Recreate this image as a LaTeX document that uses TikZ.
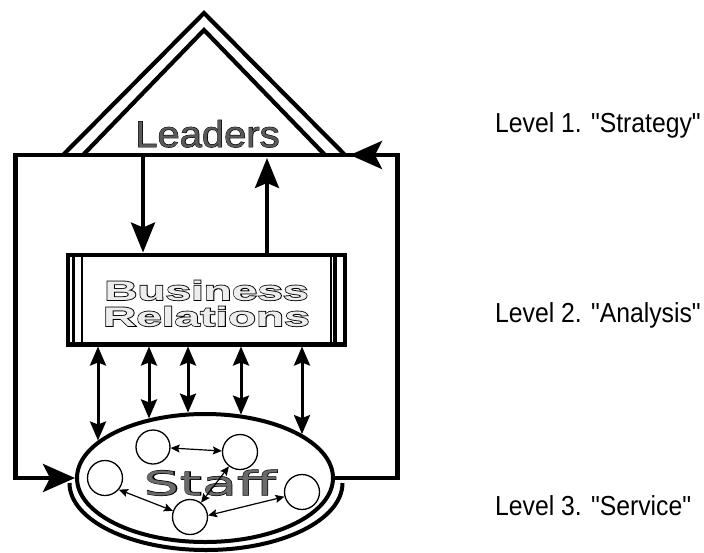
\documentclass[tikz,border=0pt]{standalone}
\usepackage{fontspec}
\setmainfont{Liberation Sans}
\usetikzlibrary{arrows.meta,shapes.geometric}
\newfontfamily\lvfont[FakeStretch=0.9]{Liberation Sans}
\newfontfamily\leadf[FakeStretch=1.08]{Liberation Sans}
\newfontfamily\leadfo[FakeStretch=1.08,FakeBold=2.5]{Liberation Sans}
\newfontfamily\busf[FakeStretch=1.7]{Liberation Sans Bold}
\newfontfamily\busfo[FakeStretch=1.7,FakeBold=6]{Liberation Sans Bold}
\newfontfamily\stf[FakeStretch=1.72]{DejaVu Sans}
\newfontfamily\stfo[FakeStretch=1.72,FakeBold=3.5]{DejaVu Sans}
\definecolor{leadgray}{HTML}{5A5A5A}
\definecolor{staffgray}{HTML}{6A6A6A}
\definecolor{busfill}{HTML}{EDEDED}
\begin{document}
\begin{tikzpicture}[x=1pt,y=-1pt,line join=miter,
  frameline/.style={line width=4.5pt},
  roofline/.style={line width=4.2pt},
  shaft/.style={line width=3.5pt},
  bigtip/.style={-{Stealth[length=32pt,width=28pt,inset=7pt]}},
  midtip/.style={-{Stealth[length=30pt,width=24pt,inset=5pt]}},
  dbl/.style={line width=3pt,{Stealth[length=19pt,width=16pt,inset=3pt]}-{Stealth[length=19pt,width=16pt,inset=3pt]}},
  small/.style={line width=1.2pt,{Stealth[length=9pt,width=8pt,inset=1.5pt]}-{Stealth[length=9pt,width=8pt,inset=1.5pt]}},
  person/.style={circle,draw,line width=1.3pt,fill=white,minimum size=35pt,inner sep=0pt},
  lvl/.style={anchor=base west,inner sep=0pt,font=\lvfont\fontsize{27.5}{27.5}\selectfont}]
\useasboundingbox (0,0) rectangle (704,552);

% frame corners
\coordinate (TL) at (15.5,155);
\coordinate (TR) at (397.5,155);
\coordinate (BL) at (15.5,478);
\coordinate (BR) at (397.5,478);
\coordinate (tipR) at (350,155);

% roof (Leaders)
\draw[roofline] (63,155) -- (204,13) -- (345,155);
\draw[roofline] (83,155) -- (204,30) -- (325,155);

% Business Relations box
\node[draw,line width=4.5pt,minimum width=277pt,minimum height=89.5pt,inner sep=0pt] (bus) at (206.5,299.5) {};
\draw[line width=2.7pt] (73.7,255) -- (73.7,344);
\draw[line width=2pt] (82,255) -- (82,344);
\draw[line width=2pt] (331,255) -- (331,344);
\draw[line width=3.3pt] (335,255) -- (335,344);

% staff ellipses
\draw[line width=4pt] (69.5,483) arc[start angle=180,end angle=0,x radius=136.5,y radius=67];
\node[ellipse,draw,line width=4pt,fill=white,minimum width=256pt,minimum height=128pt,inner sep=0pt] (staffell) at (205,478) {};

% outer frame loop
\draw[frameline,bigtip] (staffell.east) -- (BR) -- (TR) -- (TL) -- (BL) -- (staffell.west);
\draw[frameline,bigtip] (TR) -- (tipR);

% Leaders <-> Business
\coordinate (dA) at (143,157);
\coordinate (uA) at (267,158);
\draw[shaft,midtip] (dA) -- (dA |- bus.north);
\draw[shaft,midtip] (uA |- bus.north) -- (uA);

% Business <-> Staff
\coordinate (e1) at (98,440.5);
\coordinate (e2) at (149,418.4);
\coordinate (e3) at (188,412.6);
\coordinate (e4) at (241,414.6);
\coordinate (e5) at (302,434.1);
\foreach \e in {e1,e2,e3,e4,e5}{
  \draw[dbl] (\e |- bus.south) -- (\e);
}

% staff members
\node[person,minimum size=34pt] (c1) at (153,447) {};
\node[person] (c2) at (240,452) {};
\node[person] (c3) at (105,478) {};
\node[person] (c4) at (302,492) {};
\node[person] (c5) at (190,517) {};

% Texts
\node[anchor=base,inner sep=0pt,text=black,font=\leadfo\fontsize{37}{37}\selectfont] (leaders) at (207.5,147) {Leaders};
\node[anchor=base,inner sep=0pt,text=leadgray,font=\leadf\fontsize{37}{37}\selectfont] at (207.5,147) {Leaders};

\node[anchor=base,inner sep=0pt,text=black,font=\busfo\fontsize{27}{27}\selectfont] (busA) at (206.5,300) {Business};
\node[anchor=base,inner sep=0pt,text=busfill,font=\busf\fontsize{27}{27}\selectfont] at (206.5,300) {Business};
\node[anchor=base,inner sep=0pt,text=black,font=\busfo\fontsize{27}{27}\selectfont] (busB) at (206.5,326) {Relations};
\node[anchor=base,inner sep=0pt,text=busfill,font=\busf\fontsize{27}{27}\selectfont] at (206.5,326) {Relations};

\node[anchor=base,inner sep=0pt,text=black,font=\stfo\fontsize{33}{33}\selectfont] (staff) at (210,495) {Staff};
\node[anchor=base,inner sep=0pt,text=staffgray,font=\stf\fontsize{33}{33}\selectfont] at (210,495) {Staff};

% arrows among staff (drawn over text)
\draw[small] (c1) -- (c2);
\draw[small] (c5) -- (c2);
\draw[small] (c3.-40) -- (c5.160);
\draw[small] (c5.5) -- (c4.195);

% Level labels
\node[lvl] (l1) at (495,132) {Level 1. "Strategy"};
\node[lvl] (l2) at (495,322) {Level 2. "Analysis"};
\node[lvl] (l3) at (495,515) {Level 3. "Service"};
\end{tikzpicture}
\end{document}
